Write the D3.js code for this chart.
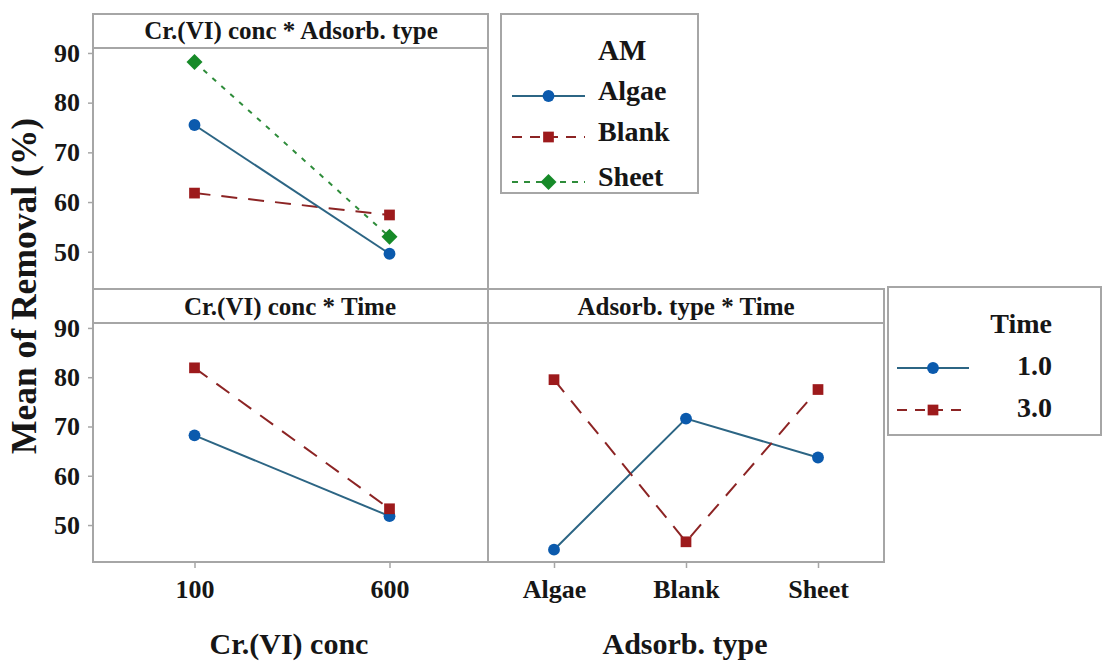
<!DOCTYPE html>
<html>
<head>
<meta charset="utf-8">
<script src="https://cdn.jsdelivr.net/npm/d3@7"></script>
<style>
  html, body { margin: 0; padding: 0; background: #fff; }
  svg { display: block; }
</style>
</head>
<body>
<svg id="chart" width="1102" height="661"></svg>
<script>
// Factor levels
const concLevels = ["100", "600"];
const adsorbTypes = ["Algae", "Blank", "Sheet"];
const timeLevels = ["1.0", "3.0"];
const yTicks = [50, 60, 70, 80, 90];

// Interaction means (Mean of Removal, %)
const algaeByConc = [75.5, 49.6];
const blankByConc = [61.8, 57.4];
const sheetByConc = [88.2, 53.0];
const time1ByConc = [68.2, 51.8];
const time3ByConc = [81.9, 53.3];
const time1ByAdsorb = [45.0, 71.6, 63.7];
const time3ByAdsorb = [79.5, 46.6, 77.5];

const FONT = '"Liberation Serif"';
const INK = "#161616";
const svg = d3.select("#chart");
const frame = "#a6a6a6";

function label(sel, size) {
  return sel.style("font-family", FONT).style("font-weight", "bold")
    .style("font-size", size + "px").attr("fill", INK);
}

const style = {
  Algae: { line: "#2c6584", mark: "#0b5aad", dash: null, legendDash: null, shape: d3.symbolCircle, size: 110, rot: 0 },
  Blank: { line: "#8c2424", mark: "#9d1a1c", dash: "16,11", legendDash: "10,8", shape: d3.symbolSquare, size: 115, rot: 0 },
  Sheet: { line: "#2e8c3a", mark: "#168a28", dash: "5,7", legendDash: "6,6", shape: d3.symbolSquare, size: 128, rot: 45 }
};
style["1.0"] = style.Algae;
style["3.0"] = style.Blank;

// Panel geometry
const L = 93, M = 488, R = 884;
const topRow = { top: 14, head: 48, bottom: 289 };
const botRow = { top: 289, head: 323, bottom: 562 };
const yDomain = [42.5, 91.0];

const yTop = d3.scaleLinear().domain(yDomain).range([topRow.bottom, topRow.head]);
const yBot = d3.scaleLinear().domain(yDomain).range([botRow.bottom, botRow.head]);
const xConcTop = d3.scalePoint().domain(concLevels).range([L + 4, M - 1]).padding(0.5);
const xConcBot = d3.scalePoint().domain(concLevels).range([L + 4, M - 1]).padding(0.5);
const xAds = d3.scalePoint().domain(adsorbTypes).range([M, R]).padding(0.5);

function marker(g, s, x, y) {
  g.append("path")
    .attr("d", d3.symbol().type(s.shape).size(s.size))
    .attr("transform", `translate(${x},${y}) rotate(${s.rot})`)
    .attr("fill", s.mark);
}

function drawSeries(g, xs, ys, cats, vals, key) {
  const s = style[key];
  const pts = cats.map((c, i) => [xs(c), ys(vals[i])]);
  g.append("path")
    .attr("d", d3.line()(pts))
    .attr("fill", "none")
    .attr("stroke", s.line)
    .attr("stroke-width", 2)
    .attr("stroke-dasharray", s.dash);
  pts.forEach(p => marker(g, s, p[0], p[1]));
}

function rect(x0, y0, x1, y1) {
  svg.append("rect").attr("x", x0).attr("y", y0).attr("width", x1 - x0).attr("height", y1 - y0)
    .attr("fill", "none").attr("stroke", frame).attr("stroke-width", 2);
}
function hline(x0, x1, y) {
  svg.append("line").attr("x1", x0).attr("x2", x1).attr("y1", y).attr("y2", y)
    .attr("stroke", frame).attr("stroke-width", 2);
}
function vline(x, y0, y1) {
  svg.append("line").attr("x1", x).attr("x2", x).attr("y1", y0).attr("y2", y1)
    .attr("stroke", frame).attr("stroke-width", 2);
}

// Frames
rect(L, topRow.top, M, topRow.bottom);
hline(L, M, topRow.head);
rect(L, botRow.top, R, botRow.bottom);
hline(L, R, botRow.head);
vline(M, botRow.top, botRow.bottom);

// Strip titles
label(svg.append("text").attr("x", 291).attr("y", 39).attr("text-anchor", "middle"), 25)
  .text("Cr.(VI) conc * Adsorb. type");
label(svg.append("text").attr("x", 290).attr("y", 315).attr("text-anchor", "middle"), 25)
  .text("Cr.(VI) conc * Time");
label(svg.append("text").attr("x", 686).attr("y", 315).attr("text-anchor", "middle"), 25)
  .text("Adsorb. type * Time");

// Y axes
function yAxis(scale) {
  const g = svg.append("g").attr("transform", `translate(${L},0)`)
    .call(d3.axisLeft(scale).tickValues(yTicks).tickSize(5).tickPadding(8).tickSizeOuter(0));
  g.select(".domain").remove();
  g.selectAll(".tick line").attr("stroke", frame).attr("stroke-width", 1.5);
  label(g.selectAll(".tick text"), 26);
}
yAxis(yTop);
yAxis(yBot);

// X axes
function xAxis(scale) {
  const g = svg.append("g").attr("transform", `translate(0,${botRow.bottom})`)
    .call(d3.axisBottom(scale).tickSize(6).tickPadding(12).tickSizeOuter(0));
  g.select(".domain").remove();
  g.selectAll(".tick line").attr("stroke", frame).attr("stroke-width", 1.5);
  label(g.selectAll(".tick text"), 26);
}
xAxis(xConcBot);
xAxis(xAds);

// Data series
const gTop = svg.append("g");
drawSeries(gTop, xConcTop, yTop, concLevels, blankByConc, "Blank");
drawSeries(gTop, xConcTop, yTop, concLevels, sheetByConc, "Sheet");
drawSeries(gTop, xConcTop, yTop, concLevels, algaeByConc, "Algae");

const gBL = svg.append("g");
drawSeries(gBL, xConcBot, yBot, concLevels, time1ByConc, "1.0");
drawSeries(gBL, xConcBot, yBot, concLevels, time3ByConc, "3.0");

const gBR = svg.append("g");
drawSeries(gBR, xAds, yBot, adsorbTypes, time1ByAdsorb, "1.0");
drawSeries(gBR, xAds, yBot, adsorbTypes, time3ByAdsorb, "3.0");

// Axis titles
label(svg.append("text").attr("x", 289).attr("y", 654).attr("text-anchor", "middle"), 30)
  .text("Cr.(VI) conc");
label(svg.append("text").attr("x", 685).attr("y", 654).attr("text-anchor", "middle"), 30)
  .text("Adsorb. type");
label(svg.append("text").attr("transform", "translate(36,286) rotate(-90)").attr("text-anchor", "middle"), 35.5)
  .text("Mean of Removal (%)");

// Legend entries
function legendItem(g, x0, x1, y, key) {
  const s = style[key];
  g.append("line").attr("x1", x0).attr("x2", x1).attr("y1", y).attr("y2", y)
    .attr("stroke", s.line).attr("stroke-width", 2)
    .attr("stroke-dasharray", s.legendDash);
  marker(g, s, (x0 + x1) / 2, y);
}

// Legend: AM
rect(501, 14, 698, 193);
const amLeg = svg.append("g");
label(amLeg.append("text").attr("x", 598).attr("y", 60), 29).text("AM");
const amY = [96, 137, 182];
adsorbTypes.forEach((t, i) => {
  legendItem(amLeg, 512, 585, amY[i], t);
  label(amLeg.append("text").attr("x", 598).attr("y", amY[i] + 4), 28).text(t);
});

// Legend: Time
rect(888, 287, 1101, 435);
const tLeg = svg.append("g");
label(tLeg.append("text").attr("x", 1052).attr("y", 333).attr("text-anchor", "end"), 28).text("Time");
const tY = [368, 410];
timeLevels.forEach((t, i) => {
  legendItem(tLeg, 897, 969, tY[i], t);
  label(tLeg.append("text").attr("x", 1052).attr("y", tY[i] + 7)
    .attr("text-anchor", "end"), 28).text(t);
});
</script>
</body>
</html>
